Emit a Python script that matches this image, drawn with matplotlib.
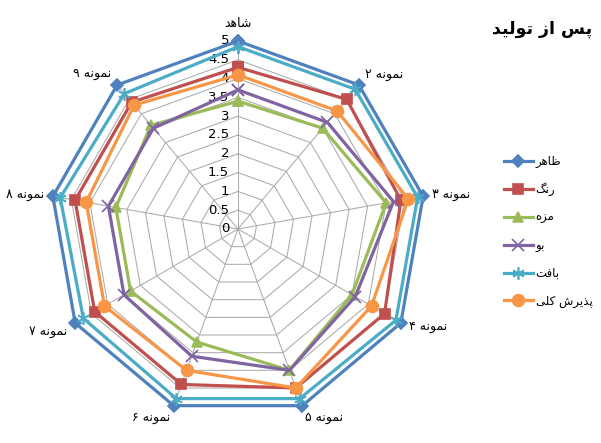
import numpy as np
import matplotlib
matplotlib.use("Agg")
import matplotlib.pyplot as plt

plt.rcParams['font.family'] = ['DejaVu Sans']

# ---------------- data ----------------
categories = ["شاهد", "نمونه ۲", "نمونه ۳", "نمونه ۴", "نمونه ۵",
              "نمونه ۶", "نمونه ۷", "نمونه ۸", "نمونه ۹"]
series_names = ["ظاهر", "رنگ", "مزه", "بو", "بافت", "پذیرش کلی"]
zaher   = [5.0, 5.0, 5.0, 5.0, 5.0, 5.0, 5.0, 5.0, 5.0]
rang    = [4.3, 4.5, 4.4, 4.5, 4.5, 4.4, 4.4, 4.4, 4.4]
maze    = [3.4, 3.5, 4.0, 3.5, 4.0, 3.2, 3.3, 3.3, 3.6]
boo     = [3.7, 3.7, 4.2, 3.6, 4.0, 3.6, 3.5, 3.5, 3.5]
baft    = [4.85, 4.85, 4.85, 4.85, 4.8, 4.8, 4.75, 4.8, 4.7]
paziresh = [4.1, 4.1, 4.6, 4.1, 4.5, 4.0, 4.1, 4.1, 4.3]
tick_values = [0, 0.5, 1, 1.5, 2, 2.5, 3, 3.5, 4, 4.5, 5]
tick_labels = ["0", "0.5", "1", "1.5", "2", "2.5", "3", "3.5", "4", "4.5", "5"]
title_text = "پس از تولید"

series = [zaher, rang, maze, boo, baft, paziresh]
colors = ["#4F81BD", "#C0504D", "#9BBB59", "#8064A2", "#4BACC6", "#F79646"]
markers = ["D", "s", "^", "x", (6, 2, 0), "o"]
msizes = [6.5, 7.5, 7.5, 8, 9, 8.5]

# ------------- simple Arabic/Persian shaping (visual order) -------------
FORMS = {
    'ا': ('\uFE8D', '\uFE8E', '\uFE8D', '\uFE8E'),
    'ب': ('\uFE8F', '\uFE90', '\uFE91', '\uFE92'),
    'پ': ('\uFB56', '\uFB57', '\uFB58', '\uFB59'),
    'ت': ('\uFE95', '\uFE96', '\uFE97', '\uFE98'),
    'د': ('\uFEA9', '\uFEAA', '\uFEA9', '\uFEAA'),
    'ذ': ('\uFEAB', '\uFEAC', '\uFEAB', '\uFEAC'),
    'ر': ('\uFEAD', '\uFEAE', '\uFEAD', '\uFEAE'),
    'ز': ('\uFEAF', '\uFEB0', '\uFEAF', '\uFEB0'),
    'س': ('\uFEB1', '\uFEB2', '\uFEB3', '\uFEB4'),
    'ش': ('\uFEB5', '\uFEB6', '\uFEB7', '\uFEB8'),
    'ظ': ('\uFEC5', '\uFEC6', '\uFEC7', '\uFEC8'),
    'ف': ('\uFED1', '\uFED2', '\uFED3', '\uFED4'),
    'ک': ('\uFB8E', '\uFB8F', '\uFB90', '\uFB91'),
    'گ': ('\uFB92', '\uFB93', '\uFB94', '\uFB95'),
    'ل': ('\uFEDD', '\uFEDE', '\uFEDF', '\uFEE0'),
    'م': ('\uFEE1', '\uFEE2', '\uFEE3', '\uFEE4'),
    'ن': ('\uFEE5', '\uFEE6', '\uFEE7', '\uFEE8'),
    'ه': ('\uFEE9', '\uFEEA', '\uFEEB', '\uFEEC'),
    'و': ('\uFEED', '\uFEEE', '\uFEED', '\uFEEE'),
    'ی': ('\uFBFC', '\uFBFD', '\uFBFE', '\uFBFF'),
}
DUAL = set('بپتسشظفکگلمنهی')


def shape(text):
    chars = list(text)
    out = []
    for i, c in enumerate(chars):
        if c not in FORMS:
            out.append(c)
            continue
        prev = chars[i - 1] if i > 0 else None
        nxt = chars[i + 1] if i + 1 < len(chars) else None
        jp = prev in DUAL
        jn = (c in DUAL) and (nxt in FORMS)
        iso, fin, ini, med = FORMS[c]
        out.append(med if (jp and jn) else fin if jp else ini if jn else iso)
    return ''.join(reversed(out))


# ---------------- figure ----------------
W, H = 601, 443
fig = plt.figure(figsize=(W / 100, H / 100), dpi=100)
cx, cy, R = 238, 443 - 229, 188
ax = fig.add_axes([(cx - R) / W, (cy - R) / H, 2 * R / W, 2 * R / H], polar=True)
ax.set_theta_offset(np.pi / 2)
ax.set_theta_direction(-1)
ax.set_ylim(0, 5)
ax.grid(False)
ax.spines['polar'].set_visible(False)
ax.set_xticks([])
ax.set_yticks([])
ax.patch.set_visible(False)

n = len(categories)
angles = np.arange(n) * 2 * np.pi / n
ang_closed = np.append(angles, angles[0])

grid_col = "#ABABAB"
for v in tick_values[1:]:
    ax.plot(ang_closed, [v] * (n + 1), color=grid_col, lw=0.75, zorder=1)
for a in angles:
    ax.plot([a, a], [0, 5], color=grid_col, lw=0.75, zorder=1)

for v, lab in zip(tick_values, tick_labels):
    ax.annotate(lab, xy=(0, v), xytext=(-9, 0), textcoords='offset pixels',
                ha='right', va='center', fontsize=9.5, color='black',
                annotation_clip=False, zorder=2)

handles = []
for name, vals, col, mk, ms in zip(series_names, series, colors, markers, msizes):
    vv = np.append(vals, vals[0])
    h, = ax.plot(ang_closed, vv, color=col, lw=2.3, marker=mk, ms=ms,
                 markerfacecolor=col, markeredgecolor=col, mew=1.2,
                 label=shape(name), zorder=3, clip_on=False)
    handles.append(h)

for a, lab in zip(angles, categories):
    dx = np.sin(a)
    dy = np.cos(a)
    if abs(dx) < 0.1:
        ha, va, off = 'center', 'bottom', (0, 11)
    else:
        ha = 'left' if dx > 0 else 'right'
        va = 'center'
        off = (9 * dx, 9 * dy - (4 if dy < -0.5 else 0) + (4 if dy > 0.5 else 0))
    ax.annotate(shape(lab), xy=(a, 5), xytext=off, textcoords='offset pixels',
                ha=ha, va=va, fontsize=9, annotation_clip=False)

fig.text(592 / W, 1 - 29 / H, shape(title_text), ha='right', va='center',
         fontsize=12.5, fontweight='bold')

leg = fig.legend(handles=handles, loc='upper left',
                 bbox_to_anchor=(499 / W, 1 - 150 / H), frameon=False,
                 fontsize=8.5, handlelength=2.5, labelspacing=1.25,
                 handletextpad=0.2, borderaxespad=0)

fig.savefig("out.png", dpi=100)
